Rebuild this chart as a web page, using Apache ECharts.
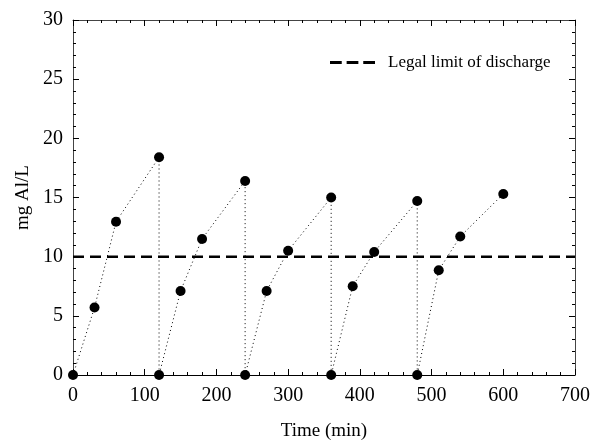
<!DOCTYPE html>
<html>
<head>
<meta charset="utf-8">
<script src="https://cdn.jsdelivr.net/npm/echarts@6/dist/echarts.min.js"></script>
<style>
  html, body { margin: 0; padding: 0; background: #fff; }
  #main { width: 592px; height: 441px; }
</style>
</head>
<body>
<div id="main"></div>
<script type="text/javascript">
	// time in minutes and Al concentration (mg Al/L)
	var timeMin = [0, 30, 60, 120, 120, 150, 180, 240, 240, 270, 300, 360, 360, 390, 420, 480, 480, 510, 540, 600];
	var alConc  = [0, 5.7, 12.95, 18.4, 0, 7.1, 11.5, 16.4, 0, 7.1, 10.5, 15.0, 0, 7.5, 10.4, 14.7, 0, 8.85, 11.7, 15.3];
	var limitX = [0, 700];
	var limitY = [10, 10];
	var limitName = 'Legal limit of discharge';

	function pairs(xs, ys) {
		var out = [];
		for (var i = 0; i < xs.length; i++) {
			out.push([xs[i], ys[i]]);
		}
		return out;
	}

	var font = 'Liberation Serif';
	var tickCommon = { show: true, inside: true, length: 6, lineStyle: { color: '#000' } };
	var minorCommon = { show: true, splitNumber: 5, length: 3, lineStyle: { color: '#000' } };
	var lineCommon = { show: true, onZero: false, lineStyle: { color: '#444', width: 1 } };

	var myChart = echarts.init(document.getElementById('main'));
	myChart.setOption({
		animation: false,
		backgroundColor: '#fff',
		grid: { left: 73, right: 17, top: 20, bottom: 66, outerBoundsMode: 'none', containLabel: false },
		legend: {
			data: [{ name: limitName, icon: 'path://M0,0h12v3h-12z M17,0h12v3h-12z M34,0h12v3h-12z' }],
			left: 325,
			top: 49,
			itemWidth: 45,
			itemHeight: 3,
			textStyle: { fontFamily: font, fontSize: 17, color: '#000', padding: [0, 0, 0, 8] }
		},
		xAxis: [{
			type: 'value',
			min: 0, max: 700, interval: 100,
			name: 'Time (min)',
			nameLocation: 'middle',
			nameGap: 47,
			nameTextStyle: { fontFamily: font, fontSize: 19, color: '#000', verticalAlign: 'top' },
			axisLine: { show: true, onZero: false, lineStyle: { color: '#000', width: 1 } },
			axisTick: tickCommon,
			minorTick: minorCommon,
			splitLine: { show: false },
			axisLabel: { fontFamily: font, fontSize: 20, color: '#000', margin: 11 }
		}, {
			type: 'value',
			position: 'top',
			min: 0, max: 700, interval: 100,
			axisLine: lineCommon,
			axisTick: tickCommon,
			minorTick: minorCommon,
			splitLine: { show: false },
			axisLabel: { show: false }
		}],
		yAxis: [{
			type: 'value',
			min: 0, max: 30, interval: 5,
			name: 'mg Al/L',
			nameLocation: 'middle',
			nameGap: 39,
			nameRotate: 90,
			nameTextStyle: { fontFamily: font, fontSize: 19, color: '#000' },
			axisLine: lineCommon,
			axisTick: tickCommon,
			minorTick: minorCommon,
			splitLine: { show: false },
			axisLabel: { fontFamily: font, fontSize: 20, color: '#000', margin: 10 }
		}, {
			type: 'value',
			position: 'right',
			min: 0, max: 30, interval: 5,
			axisLine: lineCommon,
			axisTick: tickCommon,
			minorTick: minorCommon,
			splitLine: { show: false },
			axisLabel: { show: false }
		}],
		series: [{
			name: 'Al',
			type: 'line',
			xAxisIndex: 0,
			yAxisIndex: 0,
			data: pairs(timeMin, alConc),
			symbol: 'circle',
			symbolSize: 10,
			itemStyle: { color: '#000' },
			lineStyle: { color: '#000', width: 1, type: [1, 3] },
			z: 3
		}, {
			name: limitName,
			type: 'line',
			xAxisIndex: 0,
			yAxisIndex: 0,
			data: pairs(limitX, limitY),
			symbol: 'none',
			itemStyle: { color: '#000' },
			lineStyle: { color: '#000', width: 2.5, type: [11, 6] },
			z: 2
		}]
	});
</script>
</body>
</html>
